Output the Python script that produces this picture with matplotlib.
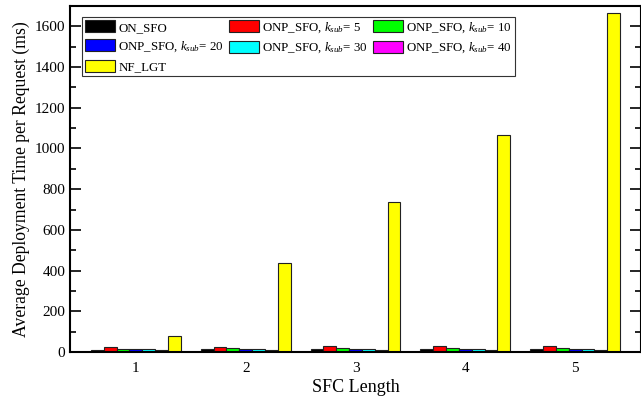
import numpy as np
import matplotlib
matplotlib.use("Agg")
import matplotlib.pyplot as plt
from matplotlib.ticker import MultipleLocator

plt.rcParams['font.family'] = ['Liberation Serif', 'DejaVu Serif']
plt.rcParams['mathtext.fontset'] = 'custom'
plt.rcParams['mathtext.rm'] = 'Liberation Serif'
plt.rcParams['mathtext.it'] = 'Liberation Serif:italic'

# dane
sfc_length = [1, 2, 3, 4, 5]
on_sfo = [12, 13, 14, 14, 15]
onp_5 = [25, 27, 28, 28, 28]
onp_10 = [17, 18, 19, 19, 19]
onp_20 = [14, 15, 15, 16, 16]
onp_30 = [13, 13, 14, 14, 14]
onp_40 = [10, 11, 11, 12, 12]
nf_lgt = [80, 435, 735, 1065, 1665]

serie = [on_sfo, onp_5, onp_10, onp_20, onp_30, onp_40, nf_lgt]
etykiety = ["ON_SFO", "ONP_SFO, $k_{sub}$= 5", "ONP_SFO, $k_{sub}$= 10",
            "ONP_SFO, $k_{sub}$= 20", "ONP_SFO, $k_{sub}$= 30", "ONP_SFO, $k_{sub}$= 40",
            "NF_LGT"]
kolory = ["#000000", "#ff0000", "#00ff00", "#0000ff", "#00ffff", "#ff00ff", "#ffff00"]

fig = plt.figure(figsize=(6.41, 4.03), dpi=100)
ax = fig.add_axes([70/641, 51/403, 571/641, 346/403])

x = np.array(sfc_length, dtype=float)
w = 0.117
uchwyty = []
for i, (s, k, e) in enumerate(zip(serie, kolory, etykiety)):
    b = ax.bar(x + (i - 3) * w, s, w, color=k, edgecolor='#222222', linewidth=0.8, label=e)
    uchwyty.append(b)

ax.set_xlim(0.4, 5.6)
ax.set_ylim(0, 1700)
ax.set_xticks(sfc_length)
ax.yaxis.set_major_locator(MultipleLocator(200))
ax.yaxis.set_minor_locator(MultipleLocator(100))
ax.tick_params(axis='y', which='major', direction='in', length=8, width=1.2,
               right=True, labelsize=11)
ax.tick_params(axis='y', which='minor', direction='in', length=4, width=1.2, right=True)
ax.tick_params(axis='x', length=0, labelsize=11, pad=7)
for sp in ax.spines.values():
    sp.set_linewidth(1.5)

ax.set_xlabel("SFC Length", fontsize=13, labelpad=3)
ax.set_ylabel("Average Deployment Time per Request (ms)", fontsize=12.7, labelpad=3)

# kolejnosc wierszami jak w oryginale
kol = [0, 3, 6, 1, 4, 2, 5]
leg = ax.legend([uchwyty[i] for i in kol], [etykiety[i] for i in kol],
                ncol=3, loc='upper left', bbox_to_anchor=(12/571, 1 - 11/346),
                borderaxespad=0, fontsize=9.3,
                frameon=True, fancybox=False, edgecolor='#333333', framealpha=1,
                handlelength=2.3, handleheight=1.07, handletextpad=0.25,
                columnspacing=0.4, labelspacing=0.43, borderpad=0.25)
leg.get_frame().set_linewidth(0.8)

plt.savefig('out.png', dpi=100)
